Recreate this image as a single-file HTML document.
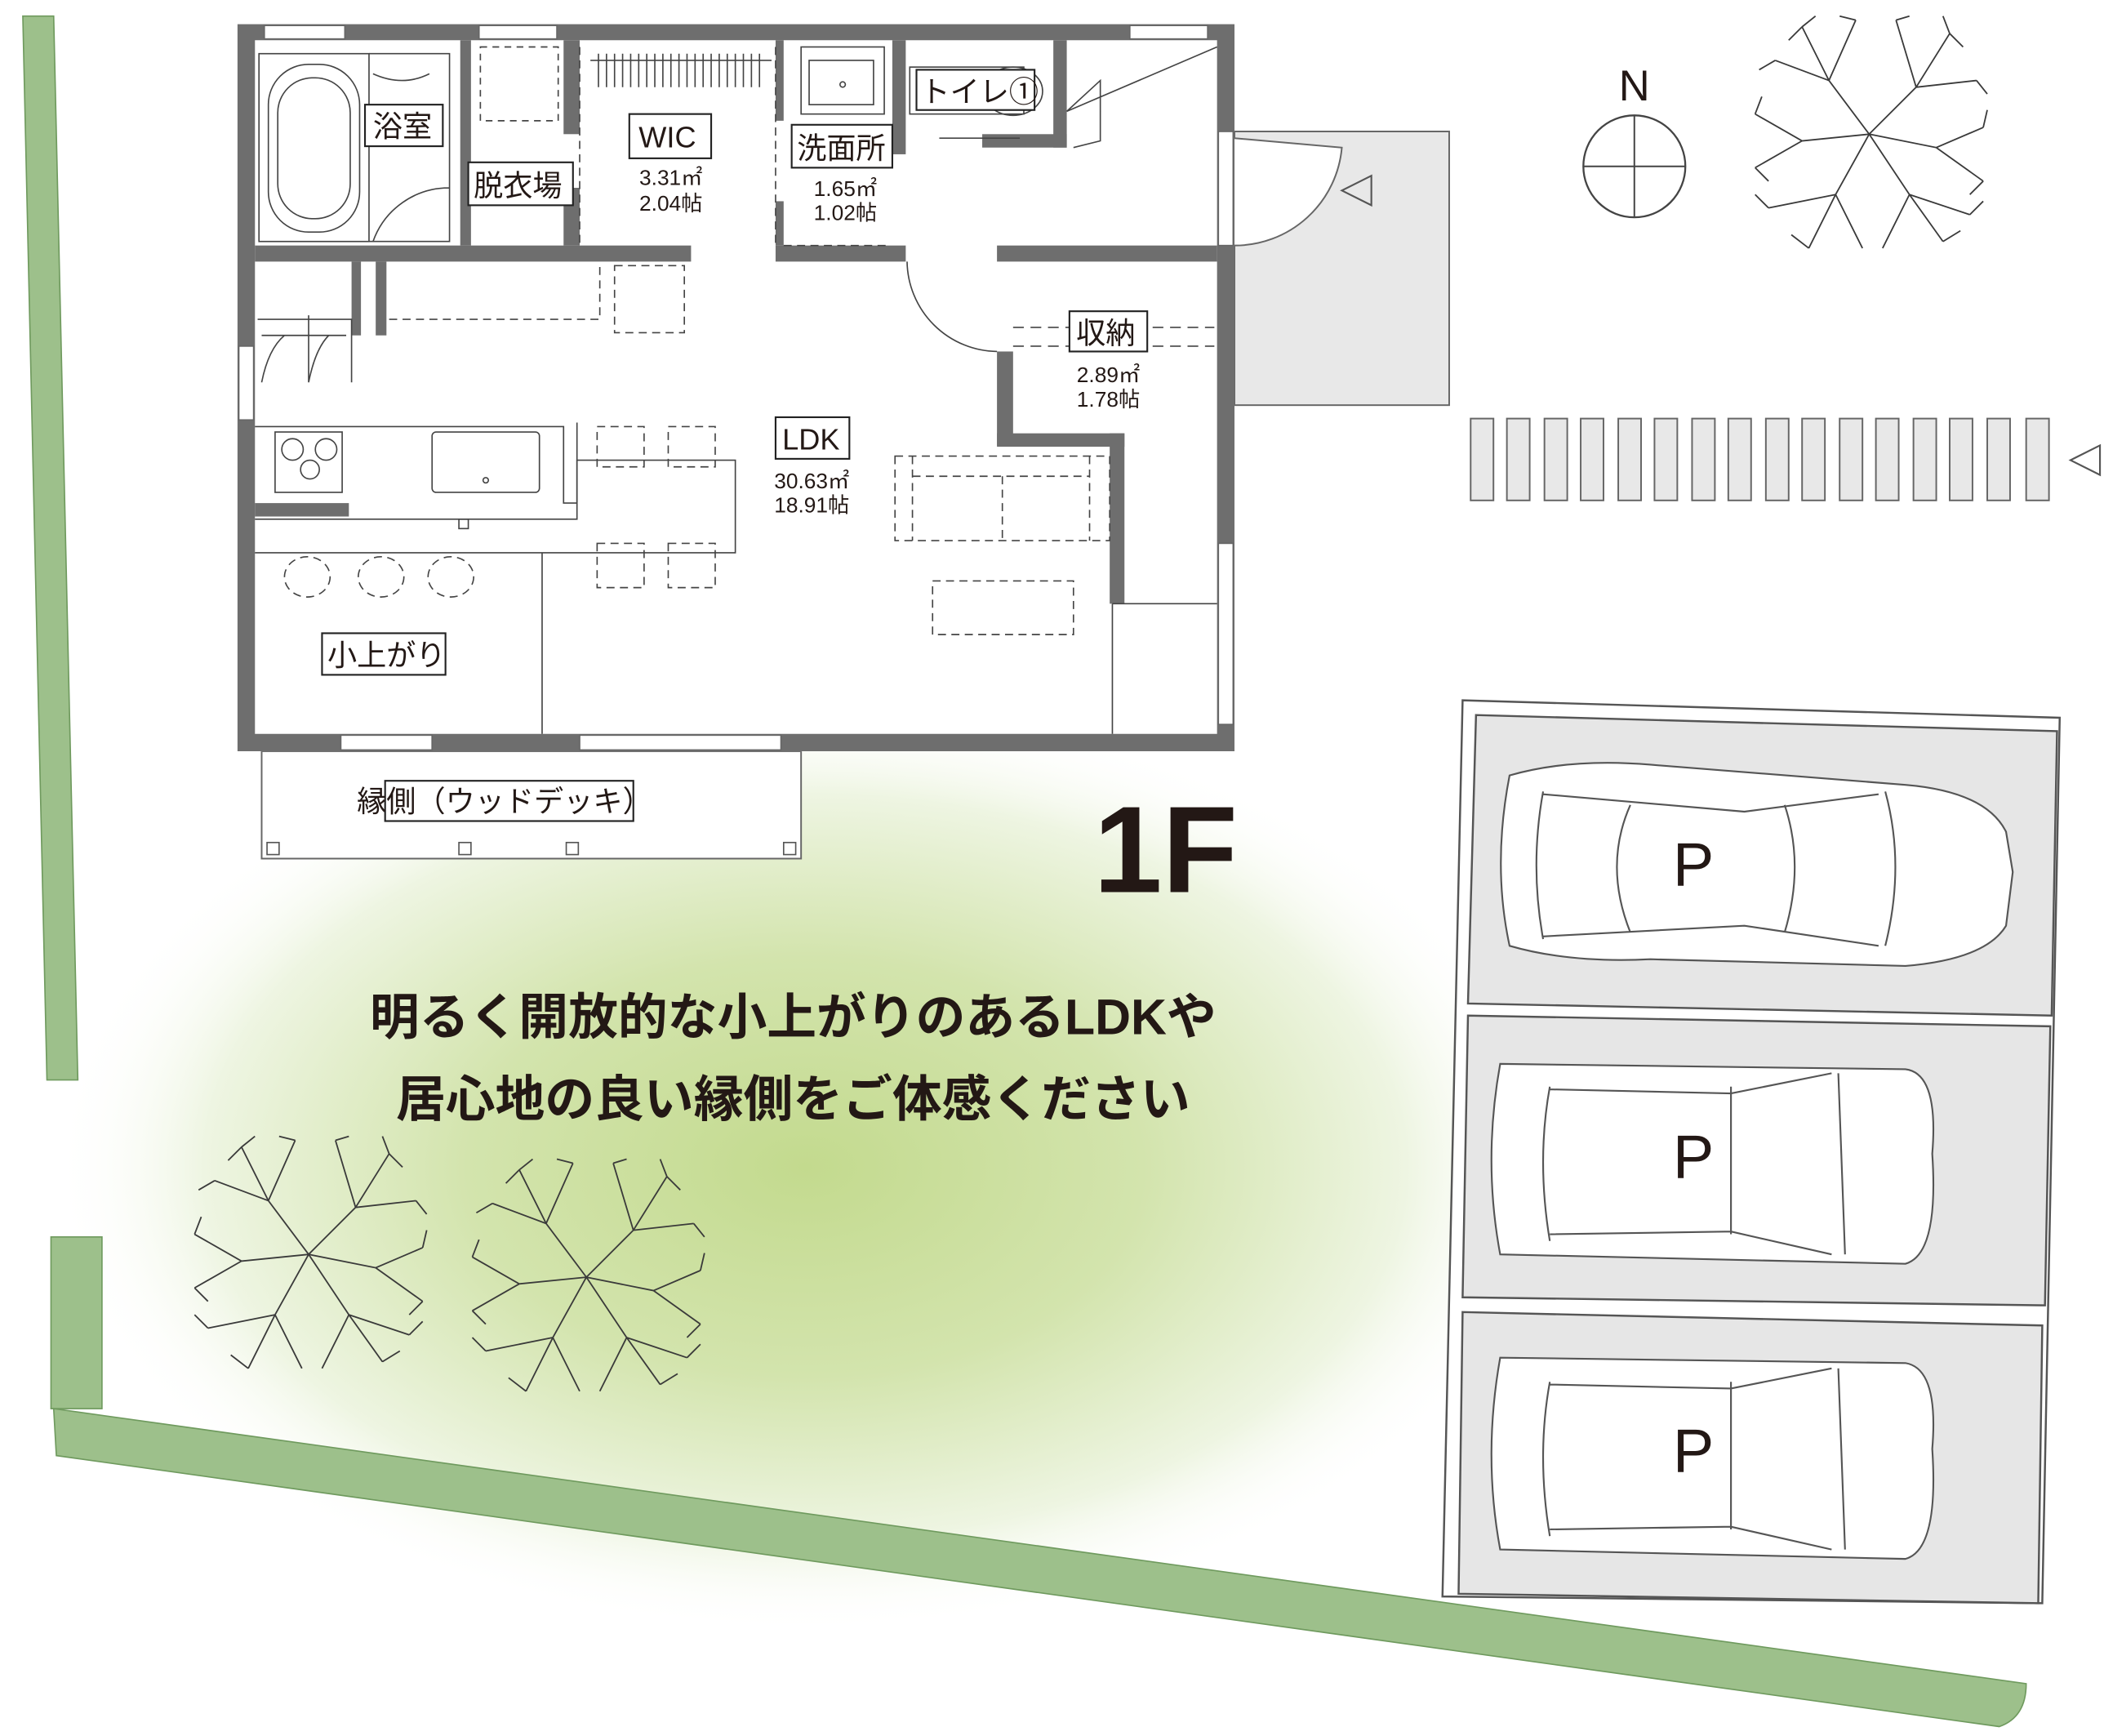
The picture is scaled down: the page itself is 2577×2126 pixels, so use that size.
<!DOCTYPE html>
<html><head><meta charset="utf-8"><style>
html,body{margin:0;padding:0;background:#fff}
svg{display:block}
text{font-family:"Liberation Sans","Noto Sans CJK JP",sans-serif;fill:#231815}
</style></head><body>
<svg width="2577" height="2126" viewBox="0 0 1568 1294" preserveAspectRatio="none" xmlns="http://www.w3.org/2000/svg">
<defs>
<radialGradient id="g" cx="600" cy="870" r="560" gradientUnits="userSpaceOnUse" gradientTransform="translate(600 870) scale(1 0.62) translate(-600 -870)">
<stop offset="0" stop-color="#c3da8e"/><stop offset="0.45" stop-color="#d3e4ad"/><stop offset="0.8" stop-color="#eef5e2"/><stop offset="1" stop-color="#ffffff" stop-opacity="0"/>
</radialGradient>
<g id="tree" stroke="#3a3a3a" stroke-width="1.1" fill="none">
<path d="M0 0 L-30 -40 L-50 -80 M-30 -40 L-10 -85 M-30 -40 L-70 -55 M0 0 L35 -35 L60 -75 M35 -35 L20 -85 M35 -35 L80 -40 M0 0 L50 10 L85 -5 M50 10 L85 35 M0 0 L30 45 L55 80 M30 45 L10 85 M30 45 L75 60 M0 0 L-25 45 L-45 85 M-25 45 L-5 85 M-25 45 L-75 55 M0 0 L-50 5 L-85 -15 M-50 5 L-85 25 M-50 -80 L-60 -70 M-50 -80 L-40 -88 M60 -75 L70 -65 M60 -75 L55 -88 M85 -5 L88 -18 M85 35 L75 45 M55 80 L68 72 M-45 85 L-58 75 M-85 -15 L-80 -28 M-85 25 L-75 35 M-70 -55 L-82 -48 M80 -40 L88 -30 M75 60 L85 50 M-75 55 L-85 45 M20 -85 L30 -88 M-10 -85 L-22 -88"/>
</g>
</defs>
<rect width="1568" height="1294" fill="#fff"/>
<ellipse cx="600" cy="870" rx="570" ry="360" fill="url(#g)"/>
<g fill="#9dc08b" stroke="#6f9a5e" stroke-width="1">
<polygon points="17,12 40,12 58,805 35,805"/>
<rect x="38" y="922" width="38" height="128"/>
<path d="M40 1050 L1510 1255 Q1510 1280 1490 1287 L42 1085 Z"/>
</g>
<g stroke="#555" stroke-width="1.5">
<polygon points="1090,522 1535,535 1522,1195 1075,1190" fill="#fff"/>
<polygon points="1100,533 1533,545 1529,757 1094,748" fill="#e6e6e6"/>
<polygon points="1094,757 1528,765 1524,973 1090,967" fill="#e6e6e6"/>
<polygon points="1090,978 1522,988 1519,1195 1087,1188" fill="#e6e6e6"/>
</g>
<g fill="#fff" stroke="#555" stroke-width="1.3">
<path d="M1125 578 Q1170 565 1230 570 L1420 585 Q1480 590 1495 620 L1500 650 L1495 690 Q1480 715 1420 720 L1230 715 Q1170 718 1125 705 Q1112 645 1125 578Z"/>
<path d="M1150 590 Q1140 645 1150 700 M1215 600 Q1195 645 1215 695 M1330 600 Q1345 645 1330 695 M1405 590 Q1420 645 1405 705 M1150 592 L1300 605 L1400 592 M1150 698 L1300 690 L1400 705"/>
<path d="M1118 793 L1420 797 Q1445 800 1440 860 Q1445 935 1420 942 L1118 935 Q1105 865 1118 793Z"/>
<path d="M1155 810 Q1145 865 1155 925 M1290 810 L1290 920 M1370 800 L1375 935 M1155 812 L1290 815 L1365 800 M1155 920 L1290 918 L1365 935"/>
<path d="M1118 1012 L1420 1016 Q1445 1020 1440 1080 Q1445 1155 1420 1162 L1118 1155 Q1105 1085 1118 1012Z"/>
<path d="M1155 1030 Q1145 1085 1155 1145 M1290 1030 L1290 1140 M1370 1020 L1375 1155 M1155 1032 L1290 1035 L1365 1020 M1155 1140 L1290 1138 L1365 1155"/>
</g>
<text x="1262" y="660" font-size="46" text-anchor="middle">P</text>
<text x="1262" y="878" font-size="46" text-anchor="middle">P</text>
<text x="1262" y="1097" font-size="46" text-anchor="middle">P</text>
<rect x="920" y="98" width="160" height="204" fill="#e8e8e8" stroke="#666" stroke-width="1.2"/>
<path d="M920 183 A80 80 0 0 0 1000 110 L920 103" fill="#fff" stroke="#666" stroke-width="1.2"/>
<polygon points="1000,142 1022,131 1022,153" fill="none" stroke="#555" stroke-width="1.3"/>
<g fill="#e8e8e8" stroke="#666" stroke-width="1.2">
<rect x="1096" y="312" width="17" height="61"/><rect x="1123" y="312" width="17" height="61"/><rect x="1151" y="312" width="17" height="61"/><rect x="1178" y="312" width="17" height="61"/><rect x="1206" y="312" width="17" height="61"/><rect x="1233" y="312" width="17" height="61"/><rect x="1261" y="312" width="17" height="61"/><rect x="1288" y="312" width="17" height="61"/><rect x="1316" y="312" width="17" height="61"/><rect x="1343" y="312" width="17" height="61"/><rect x="1371" y="312" width="17" height="61"/><rect x="1398" y="312" width="17" height="61"/><rect x="1426" y="312" width="17" height="61"/><rect x="1453" y="312" width="17" height="61"/><rect x="1481" y="312" width="17" height="61"/><rect x="1510" y="312" width="17" height="61"/>
</g>
<polygon points="1543,343 1565,332 1565,354" fill="none" stroke="#555" stroke-width="1.3"/>
<circle cx="1218" cy="124" r="38" fill="none" stroke="#444" stroke-width="1.4"/>
<path d="M1180 124 H1256 M1218 86 V162" stroke="#444" stroke-width="1.2"/>
<text x="1218" y="75" font-size="32" text-anchor="middle">N</text>
<use href="#tree" x="1393" y="100"/>
<use href="#tree" x="230" y="935"/>
<use href="#tree" x="437" y="952"/>
<rect x="195" y="560" width="402" height="80" fill="#fff" stroke="#666" stroke-width="1.2"/>
<g fill="#fff" stroke="#555" stroke-width="1"><rect x="199" y="628" width="9" height="9"/><rect x="342" y="628" width="9" height="9"/><rect x="422" y="628" width="9" height="9"/><rect x="584" y="628" width="9" height="9"/></g>
<rect x="177" y="18" width="743" height="542" fill="#fff"/>
<g fill="#6e6e6e">
<path fill-rule="evenodd" d="M177 18 H920 V560 H177 Z M190 30 V547 H907 V30 Z"/>
<rect x="190" y="183" width="325" height="12"/><rect x="578" y="183" width="97" height="12"/><rect x="743" y="183" width="164" height="12"/>
<rect x="343" y="30" width="8" height="153"/><rect x="420" y="30" width="12" height="70"/><rect x="420" y="140" width="12" height="43"/>
<rect x="578" y="30" width="6" height="60"/><rect x="578" y="150" width="6" height="33"/>
<rect x="665" y="30" width="10" height="85"/><rect x="785" y="30" width="10" height="80"/><rect x="732" y="100" width="63" height="10"/>
<rect x="743" y="262" width="12" height="70"/><rect x="743" y="323" width="95" height="10"/><rect x="827" y="323" width="11" height="127"/>
<rect x="262" y="195" width="7" height="55"/><rect x="280" y="195" width="8" height="55"/>
<rect x="190" y="375" width="70" height="10"/>
</g>
<g fill="#fff" stroke="#666" stroke-width="1">
<rect x="197" y="19" width="60" height="10"/><rect x="357" y="19" width="58" height="10"/><rect x="842" y="19" width="58" height="10"/>
<rect x="908" y="98" width="11" height="85"/><rect x="908" y="405" width="11" height="135"/>
<rect x="178" y="258" width="11" height="55"/>
<rect x="254" y="548" width="68" height="11"/><rect x="432" y="548" width="150" height="11"/>
</g>
<g stroke="#444" stroke-width="1" fill="none">
<rect x="193" y="40" width="82" height="140"/><rect x="200" y="48" width="68" height="125" rx="30"/><rect x="207" y="58" width="54" height="105" rx="26"/>
<path d="M275 40 H335 V180 H275 M335 140 A60 60 0 0 0 278 180 M278 55 Q300 65 320 55"/>
<rect x="358" y="35" width="58" height="55" stroke-dasharray="5 4"/>
<path d="M432 35 V183 M578 35 V183" stroke-dasharray="6 4"/>
<path d="M440 45 H575" /><path d="M446 40 v25 M452 40 v25 M458 40 v25 M464 40 v25 M470 40 v25 M476 40 v25 M482 40 v25 M488 40 v25 M494 40 v25 M500 40 v25 M506 40 v25 M512 40 v25 M518 40 v25 M524 40 v25 M530 40 v25 M536 40 v25 M542 40 v25 M548 40 v25 M554 40 v25 M560 40 v25 M566 40 v25"/>
<rect x="597" y="35" width="62" height="50"/><rect x="603" y="45" width="48" height="33"/><circle cx="628" cy="63" r="2"/>
<rect x="678" y="50" width="85" height="35"/><ellipse cx="755" cy="68" rx="22" ry="18"/>
<path d="M795 83 L907 35 M795 83 L820 60 V105 L800 110 M700 103 H760" />
<path d="M584 183 H660" stroke-dasharray="6 4"/>
<path d="M676 195 A68 68 0 0 0 743 262"/>
<path d="M755 244 H905 M755 258 H905" stroke-dasharray="8 5"/>
<path d="M290 238 H447 V195" stroke-dasharray="6 4"/>
<rect x="458" y="198" width="52" height="50" stroke-dasharray="6 4"/>
<path d="M192 238 H262 V285 M195 250 H258 M230 235 V285 M195 285 Q200 260 212 250 M230 285 Q235 260 245 250"/>
<path d="M190 318 H420 V375 H430 V315 M420 318"/><rect x="205" y="322" width="50" height="45"/>
<circle cx="218" cy="335" r="8"/><circle cx="243" cy="335" r="8"/><circle cx="231" cy="350" r="7"/>
<rect x="322" y="322" width="80" height="45" rx="3"/><circle cx="362" cy="358" r="2"/>
<path d="M190 387 H430 V343 H548 V412 H190 M404 412 V547 M829 450 H907 M829 450 V547"/>
<rect x="342" y="387" width="7" height="7"/>
<g stroke-dasharray="6 4"><rect x="445" y="318" width="35" height="30"/><rect x="498" y="318" width="35" height="30"/><rect x="445" y="405" width="35" height="33"/><rect x="498" y="405" width="35" height="33"/>
<rect x="667" y="340" width="160" height="63"/><path d="M680 340 V403 M747 355 V403 M812 340 V403 M680 355 H812"/>
<rect x="695" y="433" width="105" height="40"/>
<ellipse cx="229" cy="430" rx="17" ry="15"/><ellipse cx="284" cy="430" rx="17" ry="15"/><ellipse cx="336" cy="430" rx="17" ry="15"/></g>
</g>
<g fill="#fff" stroke="#222" stroke-width="1.3">
<rect x="272" y="78" width="58" height="31"/><rect x="349" y="121" width="78" height="32"/><rect x="469" y="85" width="61" height="33"/>
<rect x="590" y="93" width="75" height="32"/><rect x="683" y="52" width="88" height="30"/><rect x="797" y="232" width="58" height="30"/>
<rect x="578" y="311" width="55" height="31"/><rect x="240" y="472" width="92" height="31"/><rect x="287" y="582" width="185" height="30"/>
</g>
<g font-size="22">
<text x="278" y="102">浴室</text><text x="353" y="146">脱衣場</text><text x="476" y="110">WIC</text><text x="594" y="118">洗面所</text>
<text x="686" y="76">トイレ①</text><text x="802" y="256">収納</text><text x="583" y="335">LDK</text><text x="244" y="496">小上がり</text>
<text x="266" y="605">縁側（ウッドデッキ）</text>
</g>
<g font-size="16" text-anchor="middle">
<text x="500" y="138">3.31㎡</text><text x="500" y="157">2.04帖</text>
<text x="630" y="146">1.65㎡</text><text x="630" y="164">1.02帖</text>
<text x="826" y="285">2.89㎡</text><text x="826" y="303">1.78帖</text>
<text x="605" y="364">30.63㎡</text><text x="605" y="382">18.91帖</text>
</g>
<text x="815" y="665" font-size="92" font-weight="bold">1F</text>
<g font-size="37" font-weight="bold" text-anchor="middle">
<text x="591" y="771">明るく開放的な小上がりのあるLDKや</text>
<text x="591" y="832">居心地の良い縁側をご体感ください</text>
</g>
</svg>
</body></html>
